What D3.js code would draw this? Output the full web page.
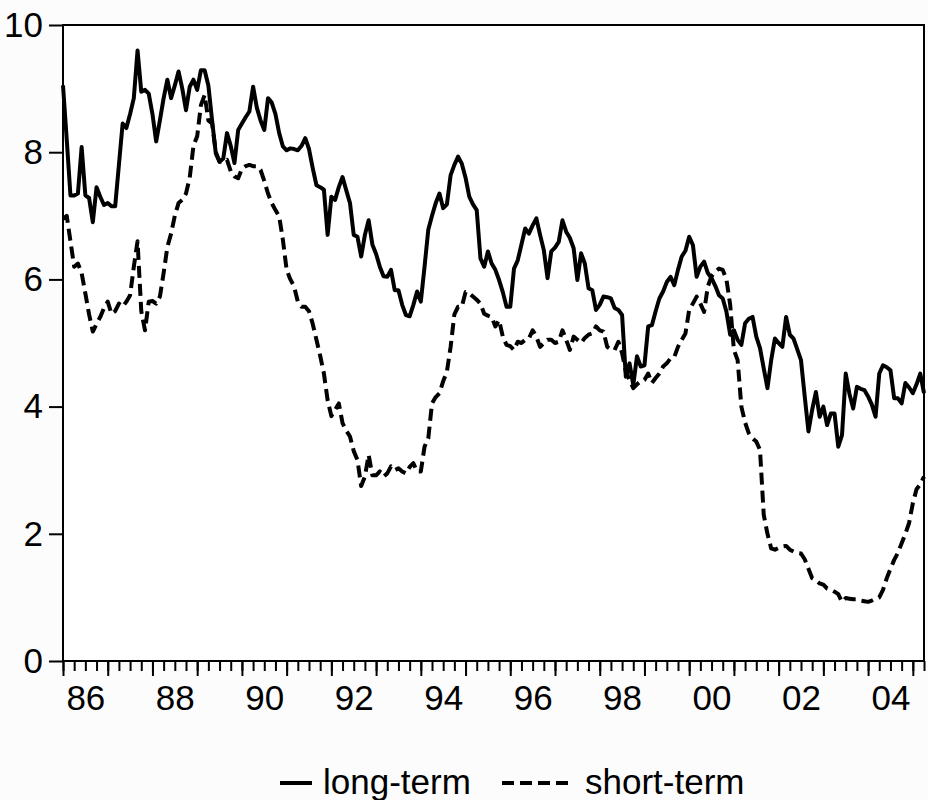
<!DOCTYPE html>
<html>
<head>
<meta charset="utf-8">
<script src="https://cdn.jsdelivr.net/npm/d3@7"></script>
<style>
  html, body { margin: 0; padding: 0; background: #fcfcfc; }
  svg { display: block; font-family: "Liberation Sans", Arial, sans-serif; }
</style>
</head>
<body>
<div id="chart"></div>
<script>
// monthly observations, 1986M01 .. 2005M04
const startYear = 1986;

const longTerm = [
  9.05, 8.20, 7.32, 7.32, 7.35, 8.08, 7.32, 7.28, 6.90, 7.45, 7.30, 7.17, // 86
  7.20, 7.15, 7.15, 7.80, 8.45, 8.38, 8.60, 8.85, 9.60, 8.95, 8.98, 8.92, // 87
  8.60, 8.17, 8.50, 8.85, 9.14, 8.85, 9.05, 9.27, 9.00, 8.66, 9.03, 9.14, // 88
  8.98, 9.29, 9.29, 9.05, 8.50, 7.98, 7.85, 7.90, 8.30, 8.10, 7.83, 8.35, // 89
  8.45, 8.55, 8.64, 9.03, 8.70, 8.50, 8.35, 8.85, 8.78, 8.60, 8.30, 8.09, // 90
  8.03, 8.06, 8.05, 8.03, 8.10, 8.22, 8.05, 7.75, 7.48, 7.45, 7.41, 6.70, // 91
  7.30, 7.25, 7.45, 7.61, 7.40, 7.20, 6.70, 6.67, 6.36, 6.70, 6.93, 6.55, // 92
  6.40, 6.20, 6.05, 6.04, 6.15, 5.83, 5.83, 5.60, 5.44, 5.42, 5.60, 5.81, // 93
  5.65, 6.20, 6.78, 7.00, 7.20, 7.35, 7.12, 7.18, 7.64, 7.80, 7.93, 7.82, // 94
  7.60, 7.30, 7.18, 7.09, 6.33, 6.20, 6.44, 6.25, 6.15, 5.99, 5.80, 5.57, // 95
  5.57, 6.17, 6.30, 6.55, 6.80, 6.72, 6.85, 6.96, 6.70, 6.46, 6.02, 6.44, // 96
  6.50, 6.59, 6.93, 6.75, 6.65, 6.49, 5.99, 6.41, 6.25, 5.86, 5.83, 5.52, // 97
  5.60, 5.73, 5.72, 5.70, 5.55, 5.52, 5.44, 4.47, 4.68, 4.34, 4.79, 4.63, // 98
  4.65, 5.26, 5.28, 5.50, 5.70, 5.81, 5.96, 6.04, 5.91, 6.15, 6.36, 6.45, // 99
  6.67, 6.54, 6.04, 6.20, 6.28, 6.10, 6.02, 5.90, 5.75, 5.70, 5.49, 5.13, // 00
  5.20, 5.05, 4.97, 5.31, 5.38, 5.41, 5.10, 4.92, 4.60, 4.29, 4.73, 5.07, // 01
  5.00, 4.94, 5.41, 5.13, 5.07, 4.90, 4.73, 4.16, 3.61, 3.95, 4.23, 3.84, // 02
  4.00, 3.71, 3.89, 3.89, 3.37, 3.55, 4.52, 4.20, 3.97, 4.31, 4.28, 4.26, // 03
  4.16, 4.03, 3.84, 4.52, 4.65, 4.62, 4.57, 4.13, 4.13, 4.05, 4.37, 4.30, // 04
  4.21, 4.35, 4.52, 4.21                                                  // 05
];

const shortTerm = [
  6.95, 7.00, 6.60, 6.20, 6.25, 6.10, 5.78, 5.45, 5.18, 5.30, 5.41, 5.55, // 86
  5.65, 5.46, 5.50, 5.62, 5.57, 5.65, 5.75, 6.20, 6.60, 5.50, 5.20, 5.65, // 87
  5.66, 5.62, 5.73, 6.10, 6.51, 6.72, 7.00, 7.20, 7.25, 7.35, 7.60, 8.10, // 88
  8.25, 8.74, 8.90, 8.50, 8.45, 8.00, 7.85, 7.85, 7.88, 7.70, 7.62, 7.59, // 89
  7.74, 7.78, 7.80, 7.78, 7.78, 7.72, 7.55, 7.35, 7.20, 7.09, 6.99, 6.62, // 90
  6.15, 6.00, 5.89, 5.65, 5.57, 5.57, 5.50, 5.30, 5.05, 4.80, 4.52, 4.10, // 91
  3.85, 3.95, 4.05, 3.74, 3.62, 3.53, 3.30, 3.16, 2.75, 2.90, 3.24, 2.92, // 92
  2.92, 2.98, 2.90, 2.95, 3.06, 3.00, 3.03, 2.98, 2.95, 3.05, 3.11, 2.98, // 93
  2.98, 3.37, 3.50, 4.05, 4.15, 4.21, 4.40, 4.55, 4.94, 5.45, 5.57, 5.57, // 94
  5.80, 5.78, 5.73, 5.68, 5.62, 5.46, 5.43, 5.41, 5.26, 5.36, 5.10, 4.97, // 95
  4.95, 4.89, 5.02, 5.00, 5.05, 5.07, 5.20, 5.10, 4.94, 5.00, 5.05, 5.05, // 96
  5.00, 5.02, 5.20, 5.05, 4.89, 5.10, 5.05, 5.00, 5.08, 5.13, 5.15, 5.26, // 97
  5.20, 5.18, 4.94, 4.90, 4.89, 5.02, 4.84, 4.55, 4.42, 4.29, 4.35, 4.40, // 98
  4.42, 4.52, 4.37, 4.45, 4.52, 4.63, 4.68, 4.76, 4.78, 4.94, 5.05, 5.15, // 99
  5.52, 5.62, 5.73, 5.62, 5.49, 5.89, 6.05, 6.12, 6.17, 6.15, 6.00, 5.60, // 00
  4.89, 4.73, 4.00, 3.75, 3.58, 3.50, 3.45, 3.32, 2.30, 2.00, 1.77, 1.75, // 01
  1.78, 1.80, 1.81, 1.75, 1.72, 1.70, 1.69, 1.60, 1.45, 1.30, 1.27, 1.22, // 02
  1.20, 1.14, 1.12, 1.09, 1.05, 0.93, 0.99, 0.98, 0.97, 0.97, 0.95, 0.94, // 03
  0.93, 0.95, 0.98, 1.00, 1.12, 1.30, 1.45, 1.59, 1.70, 1.85, 2.00, 2.17, // 04
  2.48, 2.70, 2.78, 2.90                                                  // 05
];

const yTicks = [0, 2, 4, 6, 8, 10];
const xLabelYears = [1986, 1988, 1990, 1992, 1994, 1996, 1998, 2000, 2002, 2004];
const seriesNames = ["long-term", "short-term"];

const width = 928, height = 800;
const margin = {top: 25, right: 4, bottom: 139, left: 63};
const fontSize = 35;
const lineWidth = 4;
const dash = "12,6";

const n = longTerm.length;
const t = i => startYear + i / 12;

const x = d3.scaleLinear()
    .domain([startYear, t(n - 1)])
    .range([margin.left, width - margin.right]);
const y = d3.scaleLinear()
    .domain([0, 10])
    .range([height - margin.bottom, margin.top]);

const svg = d3.select("#chart").append("svg")
    .attr("width", width)
    .attr("height", height)
    .attr("viewBox", [0, 0, width, height]);

// plot box
svg.append("rect")
    .attr("x", x.range()[0])
    .attr("y", y.range()[1])
    .attr("width", x.range()[1] - x.range()[0])
    .attr("height", y.range()[0] - y.range()[1])
    .attr("fill", "#fff");

const line = d3.line()
    .x((d, i) => x(t(i)))
    .y(d => y(d));

svg.append("path")
    .datum(longTerm)
    .attr("fill", "none")
    .attr("stroke", "#000")
    .attr("stroke-width", lineWidth)
    .attr("stroke-linejoin", "round")
    .attr("d", line);

svg.append("path")
    .datum(shortTerm)
    .attr("fill", "none")
    .attr("stroke", "#000")
    .attr("stroke-width", lineWidth)
    .attr("stroke-dasharray", dash)
    .attr("stroke-linejoin", "round")
    .attr("d", line);

svg.append("rect")
    .attr("x", x.range()[0])
    .attr("y", y.range()[1])
    .attr("width", x.range()[1] - x.range()[0])
    .attr("height", y.range()[0] - y.range()[1])
    .attr("fill", "none")
    .attr("stroke", "#000")
    .attr("stroke-width", 2);

// y axis
svg.append("g")
    .attr("transform", `translate(${margin.left},0)`)
    .call(d3.axisLeft(y).tickValues(yTicks).tickSize(14).tickPadding(6).tickFormat(d3.format("d")))
    .call(g => g.select(".domain").remove())
    .call(g => g.selectAll("line").attr("stroke-width", 2))
    .call(g => g.selectAll("text").attr("font-size", fontSize).attr("font-family", null).attr("fill", "#000"));

// x axis: quarterly minor ticks, yearly major ticks, labels mid-year
const bottomY = height - margin.bottom;
const quarters = d3.range(0, Math.round((t(n - 1) - startYear) * 4) + 1).map(k => startYear + k / 4);
const years = quarters.filter(q => q % 1 === 0);

svg.append("g")
    .attr("transform", `translate(0,${bottomY})`)
    .call(d3.axisBottom(x).tickValues(quarters).tickSize(10).tickFormat(""))
    .call(g => g.select(".domain").remove())
    .call(g => g.selectAll("line").attr("stroke-width", 2));

svg.append("g")
    .attr("transform", `translate(0,${bottomY})`)
    .call(d3.axisBottom(x).tickValues(years).tickSize(15).tickFormat(""))
    .call(g => g.select(".domain").remove())
    .call(g => g.selectAll("line").attr("stroke-width", 2));

svg.append("g")
    .attr("transform", `translate(0,${bottomY})`)
    .call(d3.axisBottom(x).tickValues(xLabelYears.map(v => v + 0.5)).tickSize(0).tickPadding(24)
      .tickFormat(d => String(Math.floor(d) % 100).padStart(2, "0")))
    .call(g => g.select(".domain").remove())
    .call(g => g.selectAll("text").attr("font-size", fontSize).attr("font-family", null).attr("fill", "#000"));

// legend
const legend = svg.append("g").attr("font-size", fontSize);
const legendY = 783;
legend.append("line")
    .attr("x1", 280).attr("x2", 312)
    .attr("y1", legendY).attr("y2", legendY)
    .attr("stroke", "#000").attr("stroke-width", lineWidth);
legend.append("text")
    .attr("x", 323).attr("y", legendY + 11)
    .text(seriesNames[0]);
legend.append("line")
    .attr("x1", 502).attr("x2", 574)
    .attr("y1", legendY).attr("y2", legendY)
    .attr("stroke", "#000").attr("stroke-width", lineWidth)
    .attr("stroke-dasharray", dash);
legend.append("text")
    .attr("x", 585).attr("y", legendY + 11)
    .text(seriesNames[1]);
</script>
</body>
</html>
